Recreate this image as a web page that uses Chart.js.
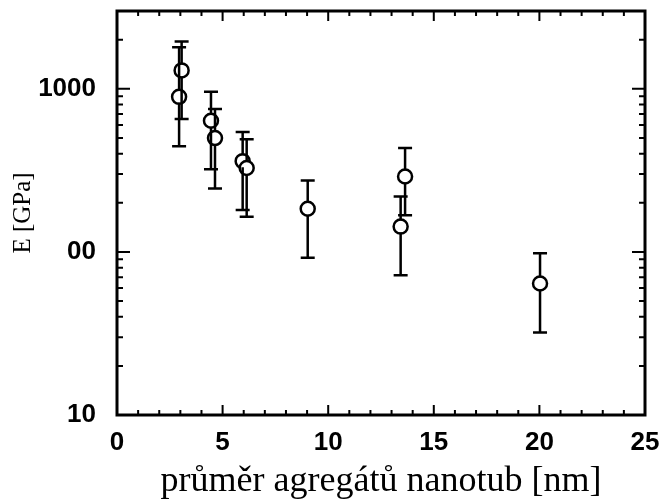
<!DOCTYPE html>
<html>
<head>
<meta charset="utf-8">
<script src="https://cdn.jsdelivr.net/npm/chart.js@4/dist/chart.umd.min.js"></script>
<style>
html,body{margin:0;padding:0;background:#fff;}
#wrap{width:662px;height:503px;position:relative;}
</style>
</head>
<body>
<div id="wrap"><canvas id="c" width="662" height="503"></canvas></div>
<script>
// Data
const diameters = [2.94, 3.06, 4.45, 4.64, 5.95, 6.14, 9.03, 13.43, 13.64, 20.03];
const modulus   = [893, 1297, 637, 499, 360, 327, 184, 143, 290, 64];
const errLow    = [444, 653, 321, 245, 181, 164, 92, 72, 168, 32];
const errHigh   = [1800, 1950, 958, 753, 543, 491, 274, 219, 433, 98];
const xTicks = [0, 5, 10, 15, 20, 25];
const yTicks = [10, 100, 1000];
const yTickLabels = {10: '10', 100: '00', 1000: '1000'};
const xTitle = 'průměr agregátů nanotub [nm]';
const yTitle = 'E [GPa]';

const points = diameters.map((d, i) => ({x: d, y: modulus[i]}));

const framePlugin = {
  id: 'frameTicks',
  afterDatasetsDraw(chart) {
    const ctx = chart.ctx;
    const xs = chart.scales.x, ys = chart.scales.y;
    const ca = chart.chartArea;
    ctx.save();
    ctx.strokeStyle = '#000';
    // error bars
    ctx.lineWidth = 2.5;
    for (let i = 0; i < diameters.length; i++) {
      const px = xs.getPixelForValue(diameters[i]);
      const lo = ys.getPixelForValue(errLow[i]);
      const hi = ys.getPixelForValue(errHigh[i]);
      const pc = ys.getPixelForValue(modulus[i]);
      ctx.beginPath();
      ctx.moveTo(px, hi); ctx.lineTo(px, pc - 6);
      ctx.moveTo(px, pc + 6); ctx.lineTo(px, lo);
      ctx.moveTo(px - 7, hi); ctx.lineTo(px + 7, hi);
      ctx.moveTo(px - 7, lo); ctx.lineTo(px + 7, lo);
      ctx.stroke();
    }
    // frame
    ctx.lineWidth = 3;
    ctx.strokeRect(ca.left, ca.top, ca.right - ca.left, ca.bottom - ca.top);
    // x ticks
    ctx.lineWidth = 2;
    ctx.beginPath();
    for (let v = 0; v <= 25; v++) {
      const px = xs.getPixelForValue(v);
      const len = (v % 5 === 0) ? 10 : 5;
      ctx.moveTo(px, ca.bottom); ctx.lineTo(px, ca.bottom - len);
      ctx.moveTo(px, ca.top); ctx.lineTo(px, ca.top + len);
    }
    // y ticks (log)
    for (let dec = 10; dec <= 1000; dec *= 10) {
      for (let m = 1; m <= 9; m++) {
        const v = dec * m;
        if (v > ys.max) continue;
        const py = ys.getPixelForValue(v);
        const len = (m === 1) ? 13 : 6;
        ctx.moveTo(ca.left, py); ctx.lineTo(ca.left + len, py);
        ctx.moveTo(ca.right, py); ctx.lineTo(ca.right - len, py);
      }
    }
    ctx.stroke();
    ctx.restore();
  }
};

new Chart(document.getElementById('c'), {
  type: 'scatter',
  data: {
    datasets: [{
      data: points,
      pointStyle: 'circle',
      pointRadius: 7,
      pointBorderWidth: 2.5,
      pointBorderColor: '#000',
      pointBackgroundColor: '#fff',
      showLine: false
    }]
  },
  options: {
    responsive: false,
    animation: false,
    layout: {padding: {top: 11, right: 17, left: 0, bottom: 0}},
    plugins: {legend: {display: false}, tooltip: {enabled: false}},
    scales: {
      x: {
        type: 'linear', min: 0, max: 25,
        afterBuildTicks: s => { s.ticks = xTicks.map(v => ({value: v})); },
        afterFit: s => { s.height = 88; s.paddingLeft = 0; s.paddingRight = 0; },
        grid: {display: false, drawTicks: false},
        border: {display: false},
        ticks: {color: '#000', padding: 12, font: {family: "'Liberation Sans', Arial, sans-serif", weight: 'bold', size: 26}},
        title: {display: true, text: xTitle, color: '#000', padding: {top: 0, bottom: 0},
                font: {family: "'Liberation Serif', 'Times New Roman', serif", size: 36, weight: 'normal'}}
      },
      y: {
        type: 'logarithmic', min: 10, max: 3000,
        afterBuildTicks: s => { s.ticks = yTicks.map(v => ({value: v})); },
        afterFit: s => { s.width = 117; s.paddingTop = 0; s.paddingBottom = 0; },
        grid: {display: false, drawTicks: false},
        border: {display: false},
        ticks: {color: '#000', padding: 21, callback: v => yTickLabels[v] || '',
                font: {family: "'Liberation Sans', Arial, sans-serif", weight: 'bold', size: 26}},
        title: {display: true, text: yTitle, color: '#000', padding: {top: 8, bottom: 0},
                font: {family: "'Liberation Serif', 'Times New Roman', serif", size: 25, weight: 'normal'}}
      }
    }
  },
  plugins: [framePlugin]
});
</script>
</body>
</html>
